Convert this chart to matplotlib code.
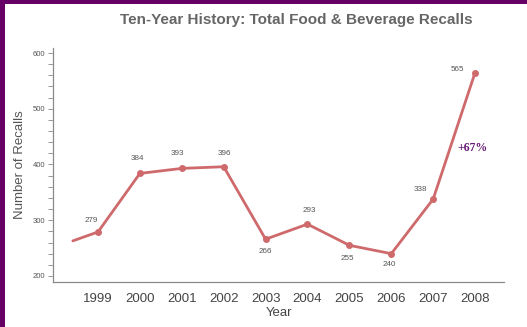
import matplotlib.pyplot as plt
from matplotlib.patches import Rectangle
from matplotlib.ticker import MultipleLocator

# data
years = [1999, 2000, 2001, 2002, 2003, 2004, 2005, 2006, 2007, 2008]
recalls = [279, 384, 393, 396, 266, 293, 255, 240, 338, 565]
# the line runs in from the left edge before 1999
lead_year = 1998.4
lead_value = 263

# where each value label sits relative to its point (pixels)
label_offsets = [(-7, 11), (-2, 15), (-4, 15), (1, 13), (0, -12),
                 (2, 14), (-2, -13), (-2, -11), (-13, 10), (-18, 3)]

line_color = '#cf6a6c'
purple = '#660066'
text_gray = '#555555'

plt.rcParams['font.family'] = ['Liberation Sans', 'DejaVu Sans']

fig = plt.figure(figsize=(5.27, 3.27), dpi=100)
fig.patch.set_facecolor('white')
# purple frame on the left and top
fig.patches.append(Rectangle((0, 0), 5 / 527, 1, transform=fig.transFigure,
                             facecolor=purple, edgecolor='none', zorder=0))
fig.patches.append(Rectangle((0, 1 - 4 / 327), 1, 4 / 327, transform=fig.transFigure,
                             facecolor=purple, edgecolor='none', zorder=0))

ax = fig.add_axes([53 / 527, 45 / 327, 451 / 527, 234 / 327])
ax.set_facecolor('white')

ax.plot([lead_year] + years, [lead_value] + recalls, color=line_color, lw=2.0,
        solid_joinstyle='round', solid_capstyle='round', zorder=3)
ax.plot(years, recalls, 'o', color=line_color, ms=4, zorder=4)

for yr, val, (dx, dy) in zip(years, recalls, label_offsets):
    ax.annotate(str(val), (yr, val), xytext=(dx, dy), textcoords='offset pixels',
                ha='center', va='center', fontsize=5.8, color=text_gray)

ax.text(2007.93, 430, '+67%', ha='center', va='center', fontsize=8.5,
        fontweight='bold', color='#6a1a78', family=['Liberation Serif', 'DejaVu Serif'])

ax.set_xlim(1997.926, 2008.69)
ax.set_ylim(189.2, 609)
ax.set_xticks(years)
ax.set_xticklabels([str(y) for y in years], fontsize=9.5, color='#444444')
ax.tick_params(axis='x', length=0, pad=8)
ax.yaxis.set_major_locator(MultipleLocator(100))
ax.yaxis.set_minor_locator(MultipleLocator(20))
ax.tick_params(axis='y', which='both', length=3.5, width=0.6, color='#888888',
               labelsize=5.5, labelcolor=text_gray, pad=2)

for side in ['top', 'right']:
    ax.spines[side].set_visible(False)
for side in ['left', 'bottom']:
    ax.spines[side].set_color('#8a8a8a')
    ax.spines[side].set_linewidth(0.9)

ax.set_ylabel('Number of Recalls', fontsize=9.5, color=text_gray, labelpad=5)
ax.set_xlabel('Year', fontsize=9.5, color='#444444', labelpad=1)

fig.text(296 / 527, 307 / 327, 'Ten-Year History: Total Food & Beverage Recalls',
         ha='center', va='center', fontsize=11, fontweight='bold', color='#666666')

fig.savefig('out.png', dpi=100, facecolor=fig.get_facecolor())
